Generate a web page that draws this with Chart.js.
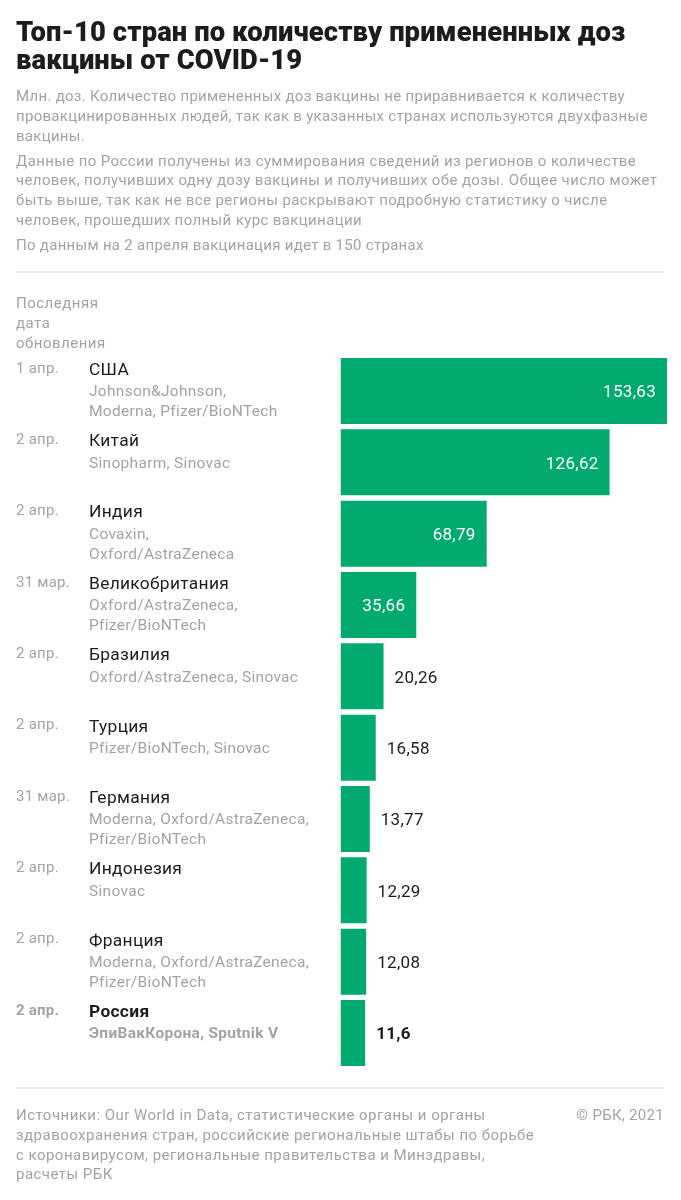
<!DOCTYPE html>
<html lang="ru"><head><meta charset="utf-8">
<style>
html,body{margin:0;padding:0;background:#fff}
body{width:681px;height:1200px;position:relative;overflow:hidden;font-family:Roboto,sans-serif}
canvas{position:absolute;left:0;top:0}
.t{position:absolute;left:16px;white-space:nowrap;color:#a3a3a3;font-size:15px;line-height:19.8px;letter-spacing:.29px}
.h{color:#1c1c1c;font-weight:900;font-size:27.4px;line-height:28px;letter-spacing:.1px;top:18px}
.r{position:absolute;left:16px;width:648px;height:2px;background:#ececec}
</style></head><body>
<canvas id="c" width="681" height="1200" style="width:681px;height:1200px"></canvas>
<div class="t h">Топ-10 стран по количеству примененных доз<br>вакцины от COVID-19</div>
<div class="t" style="top:87px">Млн. доз. Количество примененных доз вакцины не приравнивается к количеству<br>провакцинированных людей, так как в указанных странах используются двухфазные<br>вакцины.</div>
<div class="t" style="top:151.5px;letter-spacing:.38px">Данные по России получены из суммирования сведений из регионов о количестве<br>человек, получивших одну дозу вакцины и получивших обе дозы. Общее число может<br>быть выше, так как не все регионы раскрывают подробную статистику о числе<br>человек, прошедших полный курс вакцинации</div>
<div class="t" style="top:236px">По данным на 2 апреля вакцинация идет в 150 странах</div>
<div class="r" style="top:271px"></div>
<div class="t" style="top:294px;letter-spacing:.5px">Последняя<br>дата<br>обновления</div>
<div class="r" style="top:1087px"></div>
<div class="t" style="top:1106px;letter-spacing:.47px">Источники: Our World in Data, статистические органы и органы<br>здравоохранения стран, российские региональные штабы по борьбе<br>с коронавирусом, региональные правительства и Минздравы,<br>расчеты РБК</div>
<div class="t" style="top:1106px;left:auto;right:17px">© РБК, 2021</div>
<script src="https://cdn.jsdelivr.net/npm/chart.js@4"></script>
<script>
const countries=["США","Китай","Индия","Великобритания","Бразилия","Турция","Германия","Индонезия","Франция","Россия"];
const doses=[153.63,126.62,68.79,35.66,20.26,16.58,13.77,12.29,12.08,11.6];
const doseLabels=["153,63","126,62","68,79","35,66","20,26","16,58","13,77","12,29","12,08","11,6"];
const updated=["1 апр.","2 апр.","2 апр.","31 мар.","2 апр.","2 апр.","31 мар.","2 апр.","2 апр.","2 апр."];
const vaccines=[["Johnson&Johnson,","Moderna, Pfizer/BioNTech"],["Sinopharm, Sinovac"],["Covaxin,","Oxford/AstraZeneca"],["Oxford/AstraZeneca,","Pfizer/BioNTech"],["Oxford/AstraZeneca, Sinovac"],["Pfizer/BioNTech, Sinovac"],["Moderna, Oxford/AstraZeneca,","Pfizer/BioNTech"],["Sinovac"],["Moderna, Oxford/AstraZeneca,","Pfizer/BioNTech"],["ЭпиВакКорона, Sputnik V"]];
const highlighted="Россия";
const F="Roboto,sans-serif";
const rowText={id:"rowText",afterDatasetsDraw(ch){
 const c=ch.ctx,x=ch.scales.x,bars=ch.getDatasetMeta(0).data;
 c.save();c.textBaseline="middle";
 countries.forEach((n,i)=>{
  const b=bars[i],top=b.y-b.height/2,hi=n===highlighted,w=hi?"700 ":"400 ";
  c.textAlign="left";
  c.letterSpacing="0.25px";
  c.fillStyle="#a3a3a3";c.font=w+"15px "+F;c.fillText(updated[i],16,top+11);
  c.letterSpacing="0.3px";
  c.fillStyle="#1c1c1c";c.font=w+"17.4px "+F;c.fillText(n,89,top+12.5);
  c.fillStyle="#a3a3a3";c.font=w+"15.5px "+F;
  vaccines[i].forEach((l,k)=>c.fillText(l,89,top+34.5+k*20));
  const px=x.getPixelForValue(doses[i]),inside=px-x.left>60;
  c.font=w+"17px "+F;
  c.fillStyle=inside?"#fff":"#1c1c1c";
  c.textAlign=inside?"right":"left";
  c.fillText(doseLabels[i],inside?px-11:px+11,b.y+2);
 });
 c.restore();
}};
new Chart(document.getElementById("c"),{type:"bar",
 data:{labels:countries,datasets:[{data:doses,backgroundColor:"#02aa70",borderWidth:0,barPercentage:1,categoryPercentage:.925}]},
 options:{indexAxis:"y",responsive:false,animation:false,devicePixelRatio:1,
  layout:{padding:{left:340.5,right:14,top:355.3,bottom:131.3}},
  plugins:{legend:{display:false},tooltip:{enabled:false}},
  scales:{x:{display:false,min:0,max:153.63},y:{display:false}}},
 plugins:[rowText]});
</script>
</body></html>
